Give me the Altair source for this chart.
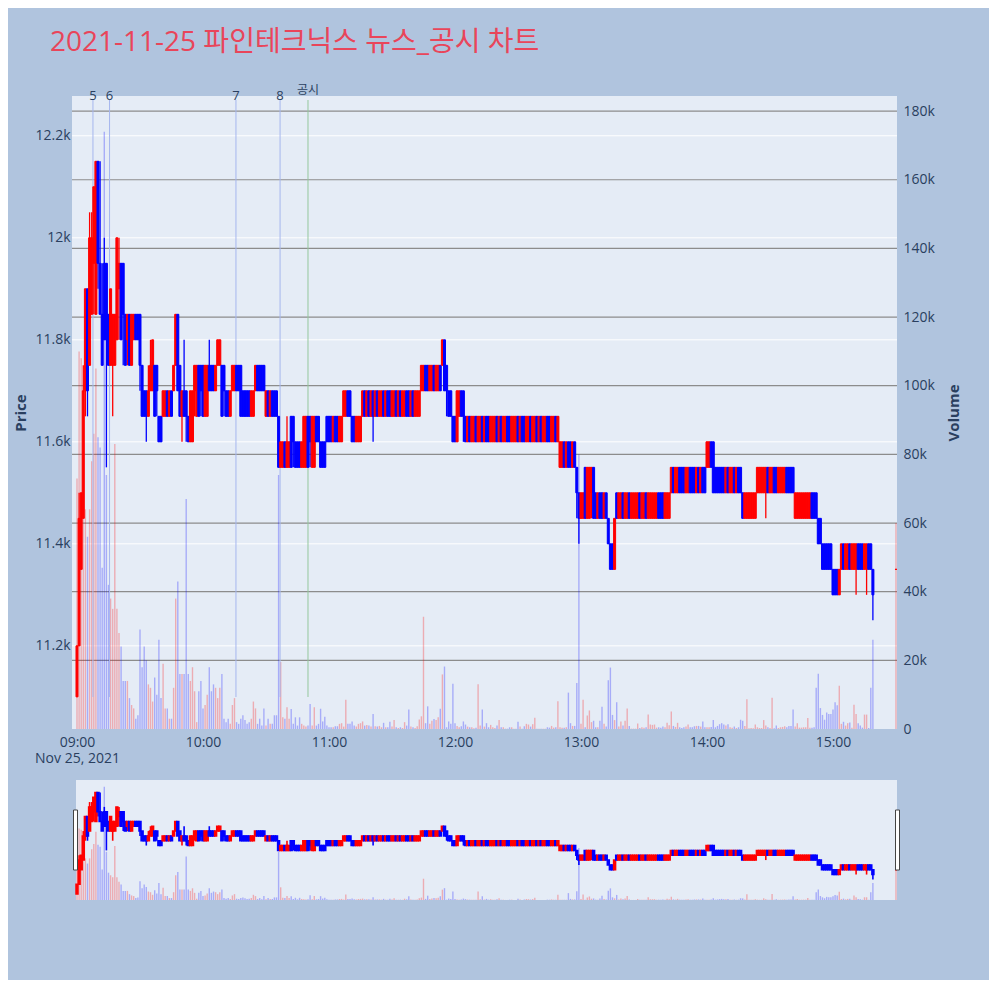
import altair as alt
import pandas as pd

title_text = "2021-11-25 파인테크닉스 뉴스_공시 차트"

# ---- one-minute candles, 09:00 .. 15:19, then the 15:30 closing auction ----
opens = [
    11100, 11200, 11350, 11450, 11700, 11900, 11750, 11850, 11950, 11850,
    12150, 11950, 11850, 11950, 11950, 11850, 11750, 11750, 11750, 11800,
    11900, 11950, 11950, 11850, 11800, 11850, 11750, 11800, 11850, 11850,
    11850, 11750, 11700, 11700, 11650, 11700, 11700, 11750, 11750, 11650,
    11650, 11650, 11650, 11700, 11650, 11700, 11700, 11750, 11850, 11750,
    11650, 11700, 11700, 11650, 11600, 11600, 11700, 11650, 11750, 11750,
    11750, 11650, 11650, 11750, 11750, 11750, 11700, 11750, 11750, 11750,
    11750, 11700, 11700, 11650, 11700, 11700, 11750, 11750, 11750, 11700,
    11700, 11700, 11700, 11650, 11650, 11700, 11750, 11750, 11750, 11750,
    11650, 11700, 11650, 11700, 11700, 11700, 11650, 11550, 11550, 11600,
    11550, 11550, 11650, 11650, 11600, 11600, 11600, 11550, 11550, 11550,
    11650, 11650, 11550, 11550, 11650, 11650, 11600, 11600, 11600, 11650,
    11650, 11650, 11600, 11650, 11650, 11600, 11600, 11650, 11650, 11700,
    11700, 11650, 11650, 11600, 11600, 11600, 11650, 11700, 11650, 11700,
    11650, 11700, 11650, 11700, 11650, 11650, 11700, 11650, 11700, 11700,
    11650, 11650, 11700, 11650, 11700, 11650, 11650, 11700, 11700, 11650,
    11700, 11650, 11650, 11650, 11700, 11700, 11750, 11750, 11700, 11700,
    11750, 11700, 11700, 11750, 11750, 11800, 11750, 11700, 11700, 11650,
    11650, 11600, 11650, 11700, 11700, 11650, 11600, 11650, 11600, 11600,
    11650, 11600, 11600, 11650, 11600, 11650, 11650, 11600, 11600, 11600,
    11650, 11600, 11650, 11600, 11600, 11650, 11650, 11600, 11600, 11600,
    11650, 11600, 11650, 11650, 11600, 11600, 11650, 11600, 11600, 11650,
    11600, 11650, 11600, 11600, 11650, 11650, 11600, 11600, 11650, 11600,
    11550, 11550, 11600, 11550, 11600, 11600, 11550, 11600, 11550, 11500,
    11450, 11450, 11550, 11450, 11450, 11500, 11550, 11500, 11450, 11500,
    11500, 11450, 11500, 11450, 11400, 11400, 11350, 11500, 11450, 11450,
    11500, 11450, 11450, 11500, 11450, 11450, 11450, 11450, 11500, 11450,
    11450, 11500, 11450, 11450, 11450, 11450, 11450, 11500, 11500, 11500,
    11450, 11450, 11450, 11500, 11550, 11500, 11500, 11550, 11550, 11550,
    11500, 11500, 11550, 11550, 11550, 11500, 11550, 11500, 11550, 11550,
    11550, 11550, 11600, 11600, 11550, 11550, 11550, 11550, 11550, 11500,
    11550, 11500, 11500, 11550, 11500, 11550, 11550, 11500, 11450, 11450,
    11450, 11450, 11450, 11450, 11500, 11500, 11500, 11500, 11500, 11550,
    11500, 11500, 11550, 11550, 11500, 11500, 11500, 11500, 11550, 11550,
    11550, 11550, 11450, 11450, 11450, 11450, 11450, 11450, 11450, 11450,
    11500, 11500, 11500, 11450, 11450, 11400, 11400, 11400, 11400, 11400,
    11350, 11350, 11350, 11300, 11350, 11400, 11350, 11350, 11400, 11350,
    11350, 11350, 11400, 11400, 11400, 11350, 11350, 11400, 11400, 11350,
    11350,
]
highs = [
    11200, 11500, 11500, 11750, 11900, 11900, 12050, 12050, 12100, 12150,
    12150, 12150, 11950, 12000, 11950, 11850, 11900, 11850, 11850, 12000,
    12000, 11950, 11950, 11850, 11850, 11850, 11850, 11850, 11850, 11850,
    11850, 11750, 11700, 11700, 11750, 11800, 11800, 11750, 11750, 11650,
    11650, 11700, 11700, 11700, 11700, 11700, 11750, 11850, 11850, 11750,
    11700, 11800, 11700, 11650, 11700, 11700, 11750, 11750, 11750, 11750,
    11750, 11750, 11750, 11800, 11750, 11750, 11750, 11800, 11800, 11750,
    11750, 11700, 11700, 11700, 11750, 11750, 11750, 11750, 11750, 11700,
    11700, 11700, 11700, 11700, 11700, 11750, 11750, 11750, 11750, 11750,
    11700, 11700, 11700, 11700, 11700, 11700, 11650, 11600, 11600, 11600,
    11650, 11600, 11650, 11650, 11600, 11600, 11600, 11600, 11650, 11650,
    11650, 11650, 11650, 11650, 11650, 11650, 11600, 11600, 11600, 11650,
    11650, 11650, 11650, 11650, 11650, 11650, 11650, 11700, 11700, 11700,
    11700, 11650, 11650, 11650, 11650, 11650, 11700, 11700, 11700, 11700,
    11700, 11700, 11700, 11700, 11700, 11700, 11700, 11700, 11700, 11700,
    11700, 11700, 11700, 11700, 11700, 11700, 11700, 11700, 11700, 11700,
    11700, 11700, 11700, 11700, 11750, 11750, 11750, 11750, 11750, 11750,
    11750, 11750, 11750, 11750, 11800, 11800, 11750, 11700, 11700, 11650,
    11650, 11700, 11700, 11700, 11700, 11650, 11650, 11650, 11650, 11650,
    11650, 11650, 11650, 11650, 11650, 11650, 11650, 11650, 11650, 11650,
    11650, 11650, 11650, 11650, 11650, 11650, 11650, 11650, 11650, 11650,
    11650, 11650, 11650, 11650, 11650, 11650, 11650, 11650, 11650, 11650,
    11650, 11650, 11650, 11650, 11650, 11650, 11650, 11650, 11650, 11650,
    11600, 11600, 11600, 11600, 11600, 11600, 11600, 11600, 11550, 11500,
    11500, 11500, 11550, 11550, 11550, 11550, 11550, 11500, 11500, 11500,
    11500, 11500, 11500, 11450, 11400, 11400, 11450, 11500, 11500, 11500,
    11500, 11500, 11500, 11500, 11500, 11500, 11500, 11500, 11500, 11500,
    11500, 11500, 11500, 11500, 11500, 11500, 11500, 11500, 11500, 11500,
    11500, 11500, 11500, 11550, 11550, 11550, 11550, 11550, 11550, 11550,
    11550, 11550, 11550, 11550, 11550, 11550, 11550, 11550, 11550, 11550,
    11600, 11600, 11600, 11600, 11550, 11550, 11550, 11550, 11550, 11550,
    11550, 11550, 11550, 11550, 11550, 11550, 11550, 11500, 11500, 11500,
    11500, 11500, 11500, 11500, 11550, 11550, 11550, 11550, 11550, 11550,
    11550, 11550, 11550, 11550, 11550, 11550, 11550, 11550, 11550, 11550,
    11550, 11550, 11500, 11500, 11500, 11500, 11500, 11500, 11500, 11500,
    11500, 11500, 11500, 11450, 11450, 11400, 11400, 11400, 11400, 11400,
    11350, 11350, 11350, 11350, 11400, 11400, 11400, 11400, 11400, 11400,
    11400, 11400, 11400, 11400, 11400, 11400, 11400, 11400, 11400, 11350,
    11350,
]
lows = [
    11100, 11200, 11350, 11450, 11650, 11650, 11750, 11850, 11850, 11850,
    11900, 11850, 11750, 11800, 11550, 11750, 11750, 11650, 11750, 11800,
    11800, 11800, 11750, 11750, 11750, 11750, 11750, 11800, 11800, 11800,
    11700, 11650, 11650, 11600, 11650, 11700, 11700, 11650, 11650, 11600,
    11600, 11650, 11650, 11650, 11650, 11650, 11700, 11750, 11700, 11650,
    11600, 11650, 11600, 11600, 11600, 11600, 11650, 11650, 11650, 11650,
    11650, 11650, 11650, 11700, 11700, 11700, 11700, 11750, 11750, 11650,
    11650, 11650, 11650, 11650, 11700, 11700, 11700, 11700, 11650, 11650,
    11650, 11650, 11650, 11650, 11650, 11700, 11700, 11700, 11700, 11700,
    11650, 11650, 11650, 11650, 11650, 11650, 11550, 11550, 11550, 11550,
    11550, 11550, 11550, 11550, 11550, 11550, 11550, 11550, 11550, 11550,
    11550, 11550, 11550, 11550, 11600, 11600, 11550, 11550, 11550, 11600,
    11600, 11600, 11600, 11600, 11600, 11600, 11600, 11650, 11650, 11650,
    11650, 11600, 11600, 11600, 11600, 11600, 11650, 11650, 11650, 11650,
    11650, 11600, 11650, 11650, 11650, 11650, 11650, 11650, 11650, 11650,
    11650, 11650, 11650, 11650, 11650, 11650, 11650, 11650, 11650, 11650,
    11650, 11650, 11650, 11650, 11700, 11700, 11700, 11700, 11700, 11700,
    11700, 11700, 11700, 11700, 11750, 11700, 11650, 11650, 11650, 11600,
    11600, 11600, 11650, 11650, 11600, 11600, 11600, 11600, 11600, 11600,
    11600, 11600, 11600, 11600, 11600, 11600, 11600, 11600, 11600, 11600,
    11600, 11600, 11600, 11600, 11600, 11600, 11600, 11600, 11600, 11600,
    11600, 11600, 11600, 11600, 11600, 11600, 11600, 11600, 11600, 11600,
    11600, 11600, 11600, 11600, 11600, 11600, 11600, 11600, 11600, 11600,
    11550, 11550, 11550, 11550, 11550, 11550, 11550, 11550, 11450, 11400,
    11450, 11450, 11450, 11450, 11450, 11450, 11450, 11450, 11450, 11450,
    11450, 11450, 11450, 11400, 11350, 11350, 11350, 11450, 11450, 11450,
    11450, 11450, 11450, 11450, 11450, 11450, 11450, 11450, 11450, 11450,
    11450, 11450, 11450, 11450, 11450, 11450, 11450, 11450, 11450, 11450,
    11450, 11450, 11450, 11500, 11500, 11500, 11500, 11500, 11500, 11500,
    11500, 11500, 11500, 11500, 11500, 11500, 11500, 11500, 11500, 11500,
    11550, 11550, 11550, 11500, 11500, 11500, 11500, 11500, 11500, 11500,
    11500, 11500, 11500, 11500, 11500, 11500, 11500, 11450, 11450, 11450,
    11450, 11450, 11450, 11450, 11500, 11500, 11500, 11500, 11450, 11500,
    11500, 11500, 11500, 11500, 11500, 11500, 11500, 11500, 11500, 11500,
    11500, 11500, 11450, 11450, 11450, 11450, 11450, 11450, 11450, 11450,
    11450, 11450, 11450, 11400, 11400, 11350, 11350, 11350, 11350, 11350,
    11300, 11300, 11300, 11300, 11350, 11350, 11350, 11350, 11350, 11350,
    11350, 11300, 11350, 11350, 11350, 11350, 11300, 11350, 11350, 11250,
    11350,
]
closes = [
    11200, 11450, 11500, 11700, 11900, 11700, 12000, 12000, 12100, 12150,
    11950, 11850, 11750, 11800, 11800, 11750, 11900, 11850, 11850, 12000,
    11950, 11800, 11850, 11750, 11850, 11750, 11850, 11850, 11800, 11800,
    11750, 11650, 11650, 11650, 11700, 11750, 11800, 11650, 11700, 11600,
    11600, 11700, 11700, 11650, 11700, 11650, 11750, 11850, 11700, 11650,
    11700, 11650, 11650, 11600, 11700, 11700, 11750, 11750, 11650, 11700,
    11650, 11750, 11750, 11700, 11700, 11700, 11750, 11800, 11800, 11650,
    11700, 11650, 11650, 11700, 11750, 11750, 11700, 11700, 11650, 11650,
    11650, 11650, 11650, 11700, 11700, 11750, 11700, 11700, 11700, 11700,
    11700, 11650, 11700, 11650, 11650, 11650, 11550, 11600, 11600, 11550,
    11600, 11600, 11550, 11600, 11550, 11550, 11550, 11600, 11650, 11650,
    11550, 11600, 11650, 11650, 11600, 11600, 11550, 11550, 11550, 11600,
    11600, 11600, 11650, 11600, 11600, 11650, 11650, 11700, 11700, 11650,
    11650, 11600, 11600, 11650, 11650, 11650, 11700, 11650, 11700, 11650,
    11700, 11650, 11700, 11650, 11700, 11700, 11650, 11700, 11650, 11650,
    11700, 11700, 11650, 11700, 11650, 11700, 11700, 11650, 11650, 11700,
    11650, 11700, 11700, 11700, 11750, 11750, 11700, 11700, 11750, 11750,
    11700, 11750, 11750, 11700, 11800, 11700, 11700, 11650, 11650, 11600,
    11600, 11700, 11700, 11650, 11650, 11600, 11650, 11600, 11650, 11650,
    11600, 11650, 11650, 11600, 11650, 11600, 11600, 11650, 11650, 11650,
    11600, 11650, 11600, 11650, 11650, 11600, 11600, 11650, 11650, 11650,
    11600, 11650, 11600, 11600, 11650, 11650, 11600, 11650, 11650, 11600,
    11650, 11600, 11650, 11650, 11600, 11600, 11650, 11650, 11600, 11650,
    11600, 11600, 11550, 11600, 11550, 11550, 11600, 11550, 11500, 11450,
    11500, 11500, 11450, 11550, 11550, 11550, 11450, 11450, 11500, 11450,
    11450, 11500, 11450, 11400, 11350, 11350, 11450, 11450, 11500, 11500,
    11450, 11500, 11500, 11450, 11500, 11500, 11500, 11500, 11450, 11500,
    11500, 11450, 11500, 11500, 11500, 11500, 11500, 11450, 11450, 11450,
    11500, 11500, 11500, 11550, 11500, 11550, 11550, 11500, 11500, 11500,
    11550, 11550, 11500, 11500, 11500, 11550, 11500, 11550, 11500, 11500,
    11600, 11600, 11550, 11500, 11500, 11500, 11500, 11500, 11500, 11550,
    11500, 11550, 11550, 11500, 11550, 11500, 11500, 11450, 11500, 11500,
    11500, 11500, 11500, 11500, 11550, 11550, 11550, 11550, 11550, 11500,
    11550, 11550, 11500, 11500, 11550, 11550, 11550, 11550, 11500, 11500,
    11500, 11500, 11500, 11500, 11500, 11500, 11500, 11500, 11500, 11500,
    11450, 11450, 11450, 11400, 11400, 11350, 11350, 11350, 11350, 11350,
    11300, 11300, 11300, 11350, 11400, 11350, 11400, 11400, 11350, 11400,
    11400, 11400, 11350, 11350, 11350, 11400, 11400, 11350, 11350, 11300,
    11350,
]
# volume per minute, in thousands of shares
volumes_k = [
    73, 110, 108, 97, 64, 56, 64, 78, 86, 105,
    85, 82, 47, 174, 74, 42, 38, 35, 83, 35,
    28, 24, 14, 14, 14, 9, 7, 6, 3, 4,
    29, 18, 24, 20, 13, 12, 8, 15, 10, 26,
    9, 19, 6, 6, 3, 3, 12, 38, 43, 16,
    16, 16, 67, 16, 14, 18, 11, 2, 11, 14,
    6, 7, 10, 18, 11, 13, 12, 9, 12, 16,
    3, 2, 3, 1.5, 7, 9, 2, 1.5, 3, 4,
    2.6, 1.5, 2, 3, 8, 6, 1.5, 3, 1, 6,
    1, 3, 1.5, 1.5, 4, 4, 74, 19.5, 3.4, 3,
    6.3, 3, 5.8, 1.5, 3.4, 1, 3.4, 1.5, 1, 0.7,
    1, 7.3, 1, 6.3, 1, 1.5, 5.9, 2.2, 3.6, 1,
    0.5, 0.5, 0.5, 0.8, 0.8, 1.5, 1.7, 0.7, 8.5, 1.5,
    1.5, 2.2, 1, 0.7, 1.5, 1.7, 2.2, 1, 1.2, 1,
    0.7, 4.4, 0.8, 0.7, 0.9, 0.5, 1.8, 0.5, 0.5, 2.1,
    0.7, 2.6, 0.5, 0.3, 0.5, 0.3, 2, 1, 5.7, 0.7,
    0.5, 0.3, 0.8, 2.8, 3.7, 32.7, 1.7, 6.6, 1.5, 2.4,
    2.9, 2.6, 3.4, 5.9, 15.9, 18.2, 0.5, 2.2, 1.5, 13.2,
    1.7, 0.9, 0.5, 0.8, 2.2, 1.3, 0.7, 0.5, 0.5, 0.2,
    0.4, 13, 1, 5.7, 0.7, 1.7, 0.5, 1.2, 0.5, 0.3,
    1, 2.6, 0.5, 0.5, 0.1, 0.1, 0.5, 0.5, 0.1, 0.1,
    2.1, 0.7, 0.1, 0.8, 1.5, 1.3, 0.7, 1.4, 3.3, 0.1,
    0.1, 0.1, 0.1, 0.1, 0.5, 0.4, 0.9, 0.4, 0.5, 8.1,
    0.5, 0.4, 0.4, 0.5, 10.6, 1.7, 0.9, 0.9, 13.4, 80,
    1.5, 8.5, 0.5, 3.9, 5.4, 2, 2.4, 0.5, 0.5, 2.4,
    6.5, 1.5, 0.7, 14.2, 17.9, 4.1, 2.6, 7.8, 0.7, 2.2,
    1, 2.4, 6, 0.9, 0.1, 0.1, 0.1, 1.6, 0.3, 0.5,
    0.4, 0.5, 4.2, 1.3, 1.2, 1.3, 0.4, 0.5, 0.4, 0.7,
    0.5, 1.8, 1.1, 5.1, 0.9, 0.6, 1.8, 0.5, 0.3, 0.5,
    0.7, 1.3, 0.5, 0.5, 0.8, 0.9, 0.9, 0.7, 2.2, 0.5,
    0.5, 0.5, 0.6, 2.6, 0.5, 0.9, 1.4, 1.7, 1.3, 1,
    1.4, 0.5, 0.4, 0.7, 0.3, 0.5, 2.7, 2.4, 0.9, 8.7,
    0.2, 0.3, 0.2, 1.3, 0.5, 0.3, 0.3, 2.6, 1, 0.5,
    0.3, 9.1, 0.2, 1, 0.3, 0.5, 0.6, 0.8, 0.5, 0.9,
    0.9, 5.7, 0.7, 1.7, 0.4, 0.4, 0.5, 0.5, 3.2, 0.4,
    0.4, 0.5, 12, 16.1, 6.1, 4.1, 2.7, 4.8, 4.4, 4.4,
    5.7, 7.8, 6.9, 12.6, 1.5, 2.1, 1, 1.7, 1.9, 0.4,
    7.1, 4.4, 1.7, 1, 0.4, 4.2, 4.2, 0.3, 12, 26,
    60,
]
# minutes after 09:00 (the last entry is the 15:30 closing auction)
minutes = list(range(380)) + [390]

news_minutes = [7.6, 15.5, 75.7, 96.7]
news_labels = ["5", "6", "7", "8"]
disclosure_minutes = [110.0]
disclosure_labels = ["공시"]

price_ticks = [11200, 11400, 11600, 11800, 12000, 12200]
volume_ticks = [0, 20000, 40000, 60000, 80000, 100000, 120000, 140000, 160000, 180000]
time_ticks = [0, 60, 120, 180, 240, 300, 360]
time_labels = ["09:00", "10:00", "11:00", "12:00", "13:00", "14:00", "15:00"]
date_label = "Nov 25, 2021"

n = len(minutes)
for name, arr in [("opens", opens), ("highs", highs), ("lows", lows), ("closes", closes), ("volumes", volumes_k)]:
    if len(arr) != n:
        raise SystemExit(f"{name} has {len(arr)} values, expected {n}")

df = pd.DataFrame({"m": minutes, "o": opens, "h": highs, "l": lows, "c": closes,
                   "v": [v * 1000 for v in volumes_k]})
df["dir"] = ["up" if c >= o else "down" for o, c in zip(opens, closes)]

news_df = pd.DataFrame({"m": news_minutes, "label": news_labels})
disc_df = pd.DataFrame({"m": disclosure_minutes, "label": disclosure_labels})
one = pd.DataFrame({"k": [0]})

# ---- layout constants (pixels inside the plotting group) ----
W = 825
MAIN_H = 633
H = 804
SL_TOP = 684
PAGE_BG = "#b0c4de"
PLOT_BG = "#e5ecf6"
TXT = "#2a3f5f"
FONT = "Open Sans"
KFONT = "Open Sans, Noto Sans CJK KR"

PRICE_DOMAIN = [11037, 12278]
VOL_DOMAIN = [0, 184400]
X_DOMAIN = [-2.38, 390.48]

color_scale = alt.Scale(domain=["up", "down"], range=["#ff0000", "#0000ff"])
COLOR = alt.Color("dir:N", scale=color_scale, legend=None)
STROKE = alt.Stroke("dir:N", scale=color_scale, legend=None)

label_arr = "[" + ",".join(f"'{t}'" for t in time_labels) + "]"
label_expr = (f"datum.value == 0 ? ['{time_labels[0]}', '{date_label}'] : "
              f"{label_arr}[round(datum.value / 60)]")

x_axis = alt.Axis(values=time_ticks, labelExpr=label_expr, ticks=False, domain=False, grid=False,
                  labelFont=FONT, labelFontSize=14, labelColor=TXT, labelPadding=6,
                  labelLineHeight=16, labelFlush=False, labelOverlap=False,
                  offset=-(H - MAIN_H))
X = alt.X("m:Q", scale=alt.Scale(domain=X_DOMAIN, nice=False, zero=False, padding=0),
          axis=x_axis, title=None)


def sc(domain, rng):
    return alt.Scale(domain=domain, range=rng, nice=False, zero=False, padding=0)


price_main = sc(PRICE_DOMAIN, [MAIN_H, 0])
vol_main = sc(VOL_DOMAIN, [MAIN_H, 0])
price_sl = sc(PRICE_DOMAIN, [H, SL_TOP])
vol_sl = sc(VOL_DOMAIN, [H, SL_TOP])

price_axis = alt.Axis(values=price_ticks, format="~s", orient="left", ticks=False, domain=False,
                      grid=False, labelFont=FONT, labelFontSize=14, labelColor=TXT, labelPadding=2,
                      titleX=-52, titleY=MAIN_H / 2, titleAngle=270, titleAlign="center",
                      titleBaseline="middle", titleFont=FONT, titleFontSize=15,
                      titleFontWeight="bold", titleColor=TXT)
vol_axis = alt.Axis(values=volume_ticks, format="~s", labelExpr="datum.value == 0 ? '0' : datum.label",
                    orient="right", ticks=False, domain=False,
                    grid=False, labelFont=FONT, labelFontSize=14, labelColor=TXT, labelPadding=6,
                    titleX=56, titleY=MAIN_H / 2, titleAngle=270, titleAlign="center",
                    titleBaseline="middle", titleFont=FONT, titleFontSize=15,
                    titleFontWeight="bold", titleColor=TXT)

bg_main = alt.Chart(one).mark_rect(color=PLOT_BG).encode(
    x=alt.value(0), x2=alt.value(W), y=alt.value(0), y2=alt.value(MAIN_H))
bg_slider = alt.Chart(one).mark_rect(color=PLOT_BG).encode(
    x=alt.value(4), x2=alt.value(W), y=alt.value(SL_TOP), y2=alt.value(H))

grid_price = alt.Chart(pd.DataFrame({"p": price_ticks})).mark_rule(color="white", strokeWidth=1).encode(
    x=alt.value(0), x2=alt.value(W), y=alt.Y("p:Q", scale=price_main, axis=price_axis, title="Price"))
grid_vol = alt.Chart(pd.DataFrame({"vv": volume_ticks[1:]})).mark_rule(color="#8c8c8c", strokeWidth=1.2).encode(
    x=alt.value(0), x2=alt.value(W), y=alt.Y("vv:Q", scale=vol_main, axis=vol_axis, title="Volume"))

vol_bars = alt.Chart(df).mark_bar(size=1.4, opacity=0.27).encode(
    x=X, y=alt.Y("v:Q", scale=vol_main, axis=None), color=COLOR)

news_lines = alt.Chart(news_df).mark_rule(color="#a5b6ee", strokeWidth=1).encode(
    x=X, y=alt.value(4), y2=alt.value(601))
disc_line = alt.Chart(disc_df).mark_rule(color="#94c79d", strokeWidth=1).encode(
    x=X, y=alt.value(4), y2=alt.value(601))

wicks = alt.Chart(df).mark_rule(strokeWidth=1.3).encode(
    x=X, y=alt.Y("l:Q", scale=price_main, axis=None), y2="h:Q", color=COLOR)
bodies = alt.Chart(df).mark_bar(size=2, strokeWidth=1).encode(
    x=X, y=alt.Y("o:Q", scale=price_main, axis=None), y2="c:Q", color=COLOR, stroke=STROKE)

sl_vol = alt.Chart(df).mark_bar(size=1.4, opacity=0.27).encode(
    x=X, y=alt.Y("v:Q", scale=vol_sl, axis=None), color=COLOR)
sl_wicks = alt.Chart(df).mark_rule(strokeWidth=1.6).encode(
    x=X, y=alt.Y("l:Q", scale=price_sl, axis=None), y2="h:Q", color=COLOR)
sl_bodies = alt.Chart(df).mark_bar(size=2, strokeWidth=1.5).encode(
    x=X, y=alt.Y("o:Q", scale=price_sl, axis=None), y2="c:Q", color=COLOR, stroke=STROKE)

handle_l = alt.Chart(one).mark_rect(fill="white", stroke="#444444", strokeWidth=1).encode(
    x=alt.value(1.5), x2=alt.value(5.5), y=alt.value(714), y2=alt.value(774))
handle_r = alt.Chart(one).mark_rect(fill="white", stroke="#444444", strokeWidth=1).encode(
    x=alt.value(823.5), x2=alt.value(827.5), y=alt.value(714), y2=alt.value(774))

news_text = alt.Chart(news_df).mark_text(fontSize=13, color=TXT, font=FONT, baseline="alphabetic").encode(
    x=X, y=alt.value(4), text="label:N")
disc_text = alt.Chart(disc_df).mark_text(fontSize=12, color=TXT, font=KFONT, baseline="alphabetic").encode(
    x=X, y=alt.value(-2), text="label:N")

title = alt.Chart(one).mark_text(text=title_text, align="left", baseline="alphabetic", fontSize=28,
                                 color="#e9455a", font=KFONT).encode(
    x=alt.value(-22), y=alt.value(-45))

chart = alt.layer(
    bg_main, bg_slider, grid_price, grid_vol, vol_bars, news_lines, disc_line,
    wicks, bodies, sl_vol, sl_wicks, sl_bodies, handle_l, handle_r,
    news_text, disc_text, title,
).resolve_scale(y="independent").properties(
    width=W, height=H,
    autosize=alt.AutoSizeParams(type="none"),
    padding={"left": 64, "top": 88, "right": 92, "bottom": 80},
    background=PAGE_BG,
).configure_view(stroke="transparent")

chart.save("out.html", embed_options={"renderer": "svg", "actions": False})
